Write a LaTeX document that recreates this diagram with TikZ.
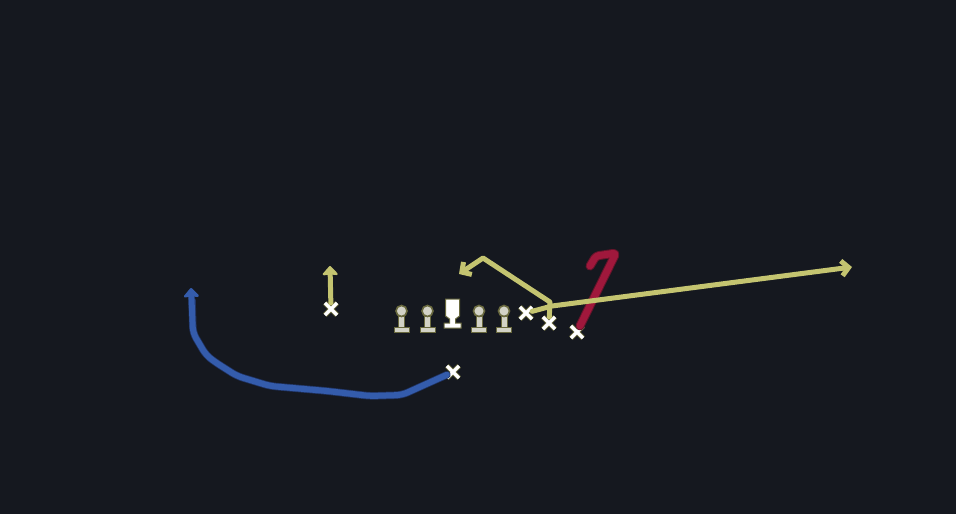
\documentclass[tikz,border=0pt]{standalone}
\usepackage{tikz}
\usetikzlibrary{arrows.meta,shapes.misc}

\definecolor{field}{RGB}{21,24,31}
\definecolor{yel}{RGB}{196,196,112}
\definecolor{yeldark}{RGB}{105,105,62}
\definecolor{blu}{RGB}{52,92,172}
\definecolor{bludark}{RGB}{32,52,100}
\definecolor{crim}{RGB}{160,24,60}
\definecolor{crimdark}{RGB}{100,20,42}
\definecolor{lmgray}{RGB}{210,210,198}

\tikzset{
  route/.style={line width=5pt, line join=round, line cap=round},
  tip/.style={-{Straight Barb[length=7pt,width=15pt]}},
  solidtip/.style={-{Stealth[length=10pt 0 0,width=18pt 0 0,inset=1pt,round]}},
  xmark/.style={cross out, draw=white, line width=3.2pt, minimum size=9pt,
    inner sep=0pt, preaction={draw=yeldark, line width=5pt}},
  lineman/.pic={
    \draw[fill=lmgray, draw=yeldark, line width=1pt]
      (-3,-1) rectangle (3,10) (-7.5,10) rectangle (7.5,15);
    \draw[fill=lmgray, draw=yeldark, line width=1.6pt] (0,-6) circle (5.5pt);
  },
  centre/.pic={
    \draw[fill=white, draw=yeldark, line width=1pt]
      (-7,-18) -- (7,-18) -- (7,-1) -- (3,2) -- (3,6) -- (8.5,6)
      -- (8.5,11) -- (-8.5,11) -- (-8.5,6) -- (-3,6) -- (-3,2) -- (-7,-1) -- cycle;
  }
}

\begin{document}
\begin{tikzpicture}[x=1pt, y=-1pt]
  \fill[field] (0,0) rectangle (956,514);

  % line
  \foreach \x/\n in {401.5/lt, 427.5/lg, 479/rg, 504/rtk}
    \pic (\n) at (\x,317) {lineman};
  \pic (c) at (452.5,317) {centre};

  % players
  \node[xmark] (sl) at (331,309) {};
  \node[xmark] (wing) at (526,313) {};
  \node[xmark] (te) at (549,323) {};
  \node[xmark] (dl) at (577,332) {};
  \node[xmark] (qb) at (453,372) {};

  \coordinate (slEnd) at (330,266);
  \coordinate (wingEnd) at (852,267);
  \coordinate (teEnd) at (459,274);
  \coordinate (qbEnd) at (191,288);

  % routes
  \draw[route, crimdark, line width=9pt, rounded corners=3pt]
    (dl) -- (616,253) -- (596,256) -- (590,266);
  \draw[route, crim, line width=7pt, rounded corners=3pt]
    (dl) -- (616,253) -- (596,256) -- (590,266);
  \draw[route, yel, solidtip] (sl) -- (slEnd);
  \draw[route, yel, tip] (wing) -- (552,306) -- (wingEnd);
  \draw[route, yel, tip] (te) -- (550,302) -- (483,258) -- (teEnd);
  \draw[route, bludark, line width=7.5pt, rounded corners=6pt]
    (qb) -- (402,395) -- (370,396) -- (327,391) -- (270,386) -- (237,376)
    -- (215,362) -- (206,355) -- (193,333) -- (192,300);
  \draw[route, blu, line width=6pt, rounded corners=6pt, solidtip]
    (qb) -- (402,395) -- (370,396) -- (327,391) -- (270,386) -- (237,376)
    -- (215,362) -- (206,355) -- (193,333) -- (qbEnd);
\end{tikzpicture}
\end{document}
